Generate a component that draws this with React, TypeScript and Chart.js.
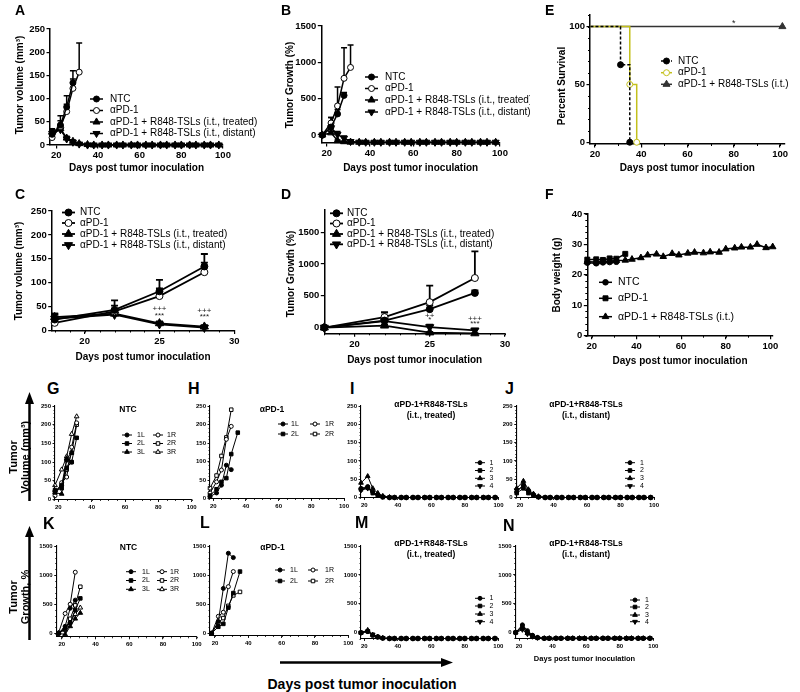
import React, { useEffect, useRef } from 'react';
import { Chart, registerables } from 'chart.js';

Chart.register(...registerables);

const FONT = "'Liberation Sans', Arial, Helvetica, sans-serif";
Chart.defaults.font.family = FONT;
Chart.defaults.color = '#000';

// ================= DATA =================
const groupLabels = ['NTC', 'αPD-1', 'αPD-1 + R848-TSLs (i.t., treated)', 'αPD-1 + R848-TSLs (i.t., distant)'];
const groupLabels3 = ['NTC', 'αPD-1', 'αPD-1 + R848-TSLs (i.t.)'];
const tumorLabelsNTC = ['1L', '2L', '3L', '1R', '2R', '3R'];
const tumorLabelsPD1 = ['1L', '2L', '1R', '2R'];
const mouseLabels = ['1', '2', '3', '4'];

const ticksDays100 = [20, 40, 60, 80, 100];
const ticksDays30 = [20, 25, 30];
const ticksVol250 = [0, 50, 100, 150, 200, 250];
const ticksGrowth1500 = [0, 500, 1000, 1500];
const ticksSurvival = [0, 50, 100];
const ticksWeight = [0, 10, 20, 30, 40];

const daysNTC = [18, 22, 25, 28];
const daysPD1 = [18, 22, 25, 28, 31];
const daysLong = [18, 22, 25, 28, 31, 35, 38, 42, 45, 49, 52, 56, 59, 63, 66, 70, 73, 77, 80, 84, 87, 91, 94, 98];

// A / C : tumor volume (mm3), mean and upper SEM
const volNTC = [23, 43, 82, 134];
const volNTCErr = [10, 20, 24, 26];
const volPD1 = [16, 40, 72, 122, 157];
const volPD1Err = [4, 12, 16, 20, 63];
const volTreated = [28, 35, 15, 8, 3, 1, 0, 0, 0, 0, 0, 0, 0, 0, 0, 0, 0, 0, 0, 0, 0, 0, 0, 0];
const volTreatedErr = [7, 5, 4, 3, 1, 0, 0, 0, 0, 0, 0, 0, 0, 0, 0, 0, 0, 0, 0, 0, 0, 0, 0, 0];
const volDistant = [25, 33, 13, 6, 2, 0, 0, 0, 0, 0, 0, 0, 0, 0, 0, 0, 0, 0, 0, 0, 0, 0, 0, 0];
const volDistantErr = [10, 6, 5, 2, 1, 0, 0, 0, 0, 0, 0, 0, 0, 0, 0, 0, 0, 0, 0, 0, 0, 0, 0, 0];

// B / D : tumor growth (%)
const grNTC = [0, 110, 290, 545];
const grNTCErr = [0, 130, 60, 40];
const grPD1 = [0, 165, 400, 780, 930];
const grPD1Err = [0, 75, 260, 420, 310];
const grTreated = [0, 30, -78, -92, -98, -100, -100, -100, -100, -100, -100, -100, -100, -100, -100, -100, -100, -100, -100, -100, -100, -100, -100, -100];
const grTreatedErr = [0, 20, 10, 5, 2, 0, 0, 0, 0, 0, 0, 0, 0, 0, 0, 0, 0, 0, 0, 0, 0, 0, 0, 0];
const grDistant = [0, 100, 8, -45, -90, -99, -100, -100, -100, -100, -100, -100, -100, -100, -100, -100, -100, -100, -100, -100, -100, -100, -100, -100];
const grDistantErr = [0, 60, 40, 30, 5, 0, 0, 0, 0, 0, 0, 0, 0, 0, 0, 0, 0, 0, 0, 0, 0, 0, 0, 0];

// E : survival (%)
const survNTCDays = [18, 31, 35];
const survNTC = [100, 67, 0];
const survPD1Days = [18, 35, 38];
const survPD1 = [100, 50, 0];
const survTrtDays = [18, 101];
const survTrt = [100, 100];

// F : body weight (g)
const bwNTCDays = [18, 22, 25, 28, 31];
const bwNTC = [24.0, 23.8, 24.1, 24.2, 24.3];
const bwPD1Days = [18, 22, 25, 28, 31, 35];
const bwPD1 = [25.0, 25.1, 24.9, 25.4, 25.3, 26.9];
const bwTrtDays = [18, 22, 25, 28, 31, 35, 38, 42, 45, 49, 52, 56, 59, 63, 66, 70, 73, 77, 80, 84, 87, 91, 94, 98, 101];
const bwTrt = [24.3, 24.2, 24.5, 24.5, 24.7, 24.8, 25.1, 25.6, 26.5, 26.8, 26.0, 27.0, 26.5, 27.1, 27.4, 27.2, 27.5, 27.4, 28.5, 28.8, 29.1, 29.1, 30.0, 28.9, 29.2];

// G / K : NTC individual tumors
const ntcTumorDays = [18, 22, 25, 28, 31];
const gVol1L = [22, 38, 105, 100];
const gVol2L = [25, 30, 85, 100, 165];
const gVol3L = [18, 15, 110, 125];
const gVol1R = [10, 45, 60, 140, 205];
const gVol2R = [20, 40, 80, 125, 200];
const gVol3R = [38, 80, 115, 175, 222];
const kGr1L = [0, 120, 430, 570];
const kGr2L = [0, 80, 180, 400, 600];
const kGr3L = [0, -20, 120, 250, 350];
const kGr1R = [0, 340, 500, 1050];
const kGr2R = [0, 60, 250, 480, 800];
const kGr3R = [0, 100, 200, 330, 440];

// H / L : aPD-1 individual tumors
const pd1TumorDays = [18, 22, 25, 28, 31, 35];
const hVol1L = [5, 15, 36, 90, 78];
const hVol2L = [8, 25, 45, 55, 120, 178];
const hVol1R = [15, 45, 77, 160, 195];
const hVol2R = [28, 62, 115, 165, 240];
const lGr1L = [0, 200, 770, 1375, 1300];
const lGr2L = [0, 110, 160, 440, 690, 1060];
const lGr1R = [0, 290, 360, 800, 1060];
const lGr2R = [0, 180, 260, 470, 650, 710];

// I / M : treated tumors, J / N : distant tumors
const iVol1 = [25, 30, 15, 8, 2, 0, 0, 0, 0, 0, 0, 0, 0, 0, 0, 0, 0, 0, 0, 0, 0, 0, 0, 0];
const iVol2 = [22, 27, 12, 5, 1, 0, 0, 0, 0, 0, 0, 0, 0, 0, 0, 0, 0, 0, 0, 0, 0, 0, 0, 0];
const iVol3 = [40, 58, 25, 12, 4, 1, 0, 0, 0, 0, 0, 0, 0, 0, 0, 0, 0, 0, 0, 0, 0, 0, 0, 0];
const iVol4 = [20, 25, 14, 6, 2, 0, 0, 0, 0, 0, 0, 0, 0, 0, 0, 0, 0, 0, 0, 0, 0, 0, 0, 0];
const jVol1 = [15, 35, 20, 8, 2, 0, 0, 0, 0, 0, 0, 0, 0, 0, 0, 0, 0, 0, 0, 0, 0, 0, 0, 0];
const jVol2 = [12, 25, 12, 5, 1, 0, 0, 0, 0, 0, 0, 0, 0, 0, 0, 0, 0, 0, 0, 0, 0, 0, 0, 0];
const jVol3 = [25, 45, 22, 10, 3, 0, 0, 0, 0, 0, 0, 0, 0, 0, 0, 0, 0, 0, 0, 0, 0, 0, 0, 0];
const jVol4 = [20, 30, 15, 6, 2, 0, 0, 0, 0, 0, 0, 0, 0, 0, 0, 0, 0, 0, 0, 0, 0, 0, 0, 0];
const mGr1 = [0, 20, -40, -68, -92, -100, -100, -100, -100, -100, -100, -100, -100, -100, -100, -100, -100, -100, -100, -100, -100, -100, -100, -100];
const mGr2 = [0, 23, -45, -77, -95, -100, -100, -100, -100, -100, -100, -100, -100, -100, -100, -100, -100, -100, -100, -100, -100, -100, -100, -100];
const mGr3 = [0, 45, -37, -70, -90, -98, -100, -100, -100, -100, -100, -100, -100, -100, -100, -100, -100, -100, -100, -100, -100, -100, -100, -100];
const mGr4 = [0, 25, -30, -70, -90, -100, -100, -100, -100, -100, -100, -100, -100, -100, -100, -100, -100, -100, -100, -100, -100, -100, -100, -100];
const nGr1 = [0, 133, 33, -47, -87, -100, -100, -100, -100, -100, -100, -100, -100, -100, -100, -100, -100, -100, -100, -100, -100, -100, -100, -100];
const nGr2 = [0, 108, 0, -58, -92, -100, -100, -100, -100, -100, -100, -100, -100, -100, -100, -100, -100, -100, -100, -100, -100, -100, -100, -100];
const nGr3 = [0, 80, -12, -60, -88, -100, -100, -100, -100, -100, -100, -100, -100, -100, -100, -100, -100, -100, -100, -100, -100, -100, -100, -100];
const nGr4 = [0, 50, -25, -70, -90, -100, -100, -100, -100, -100, -100, -100, -100, -100, -100, -100, -100, -100, -100, -100, -100, -100, -100, -100];

// ================= HELPERS =================
type MStyle = 'circle' | 'rect' | 'triangle' | 'tridown';
interface Ser {
  label: string; x: number[]; y: number[]; err?: number[]; style: MStyle; open?: boolean;
  color?: string; dash?: number[]; radii?: number[]; stepped?: boolean; lw?: number;
}
interface LegItem { s: number; y: number; x1: number; x2: number; tx: number; }
interface Spec {
  canvas: number[]; plot: number[];
  xmin: number; xmax: number; xticks: number[]; xminor?: number; xtitle?: string; xtitleY?: number; xtitleSize?: number;
  ymin: number; ymax: number; yticks: number[]; yminor?: number; ytitle?: string; ytitleX?: number; ytitleY?: number;
  tickSize: number; tickLen: number; axisW: number; lineW: number; markR: number; capW: number; minorLen: number;
  series: Ser[]; legend?: { items: LegItem[]; size: number }; texts?: { x: number; y: number; text: string; size: number }[];
}

function col(idx: number[], ys: number[], x1: number, x2: number, tx: number): LegItem[] {
  return idx.map((s, i) => ({ s, y: ys[i], x1, x2, tx }));
}

function drawMarker(ctx: CanvasRenderingContext2D, style: MStyle, x: number, y: number, r: number, fill: string, stroke: string, lw: number) {
  ctx.save();
  ctx.beginPath();
  if (style === 'circle') ctx.arc(x, y, r, 0, Math.PI * 2);
  else if (style === 'rect') { const s = r * Math.SQRT1_2; ctx.rect(x - s, y - s, 2 * s, 2 * s); }
  else {
    let rad = style === 'tridown' ? Math.PI : 0;
    for (let k = 0; k < 3; k++) {
      const px = x + Math.sin(rad) * r, py = y - Math.cos(rad) * r;
      if (k === 0) ctx.moveTo(px, py); else ctx.lineTo(px, py);
      rad += (2 * Math.PI) / 3;
    }
    ctx.closePath();
  }
  ctx.fillStyle = fill; ctx.fill();
  ctx.lineWidth = lw; ctx.strokeStyle = stroke; ctx.stroke();
  ctx.restore();
}

const errPlugin = {
  id: 'gpErr',
  beforeDatasetsDraw(chart: any, _a: any, opts: any) {
    const ctx = chart.ctx; const xs = chart.scales.x; const ys = chart.scales.y;
    chart.data.datasets.forEach((d: any) => {
      if (!d.errUp) return;
      ctx.save(); ctx.strokeStyle = d.borderColor; ctx.lineWidth = opts.lw || 1.5;
      d.data.forEach((pt: any, i: number) => {
        const e = d.errUp[i]; if (!e) return;
        const px = xs.getPixelForValue(pt.x); const y0 = ys.getPixelForValue(pt.y); const y1 = ys.getPixelForValue(pt.y + e);
        ctx.beginPath(); ctx.moveTo(px, y0); ctx.lineTo(px, y1);
        ctx.moveTo(px - opts.cap, y1); ctx.lineTo(px + opts.cap, y1); ctx.stroke();
      });
      ctx.restore();
    });
  },
};

const minorPlugin = {
  id: 'gpMinor',
  afterDraw(chart: any, _a: any, opts: any) {
    const ctx = chart.ctx; const ca = chart.chartArea;
    ctx.save(); ctx.strokeStyle = '#000'; ctx.lineWidth = opts.lw || 1;
    if (opts.x) {
      const s = chart.scales.x;
      for (let v = Math.ceil(s.min / opts.x) * opts.x; v <= s.max + 1e-9; v += opts.x) {
        const p = Math.round(s.getPixelForValue(v)) + 0.5;
        ctx.beginPath(); ctx.moveTo(p, ca.bottom); ctx.lineTo(p, ca.bottom + opts.len); ctx.stroke();
      }
    }
    if (opts.y) {
      const s = chart.scales.y;
      for (let v = Math.ceil(s.min / opts.y) * opts.y; v <= s.max + 1e-9; v += opts.y) {
        const p = Math.round(s.getPixelForValue(v)) + 0.5;
        ctx.beginPath(); ctx.moveTo(ca.left, p); ctx.lineTo(ca.left - opts.len, p); ctx.stroke();
      }
    }
    ctx.restore();
  },
};

const legendPlugin = {
  id: 'gpLegend',
  afterDraw(chart: any, _a: any, opts: any) {
    if (!opts || !opts.items) return;
    const ctx = chart.ctx;
    ctx.save();
    ctx.font = `${opts.size}px ${FONT}`;
    ctx.textBaseline = 'middle';
    opts.items.forEach((it: any) => {
      const d = chart.data.datasets[it.s];
      const y = it.y - opts.oy; const x1 = it.x1 - opts.ox; const x2 = it.x2 - opts.ox;
      ctx.beginPath(); ctx.setLineDash(d.borderDash || []);
      ctx.strokeStyle = d.borderColor; ctx.lineWidth = d.borderWidth;
      ctx.moveTo(x1, y); ctx.lineTo(x2, y); ctx.stroke(); ctx.setLineDash([]);
      drawMarker(ctx, d.gpStyle, (x1 + x2) / 2, y, d.gpR, d.gpOpen ? '#fff' : d.borderColor, d.borderColor, d.pointBorderWidth);
      ctx.fillStyle = '#000';
      ctx.fillText(d.label, it.tx - opts.ox, y);
    });
    ctx.restore();
  },
};

const textsPlugin = {
  id: 'gpTexts',
  afterDraw(chart: any, _a: any, opts: any) {
    if (!opts || !opts.items) return;
    const ctx = chart.ctx;
    ctx.save(); ctx.textAlign = 'center'; ctx.textBaseline = 'middle'; ctx.fillStyle = '#222';
    opts.items.forEach((t: any) => {
      ctx.font = `${t.size}px ${FONT}`;
      ctx.fillText(t.text, chart.scales.x.getPixelForValue(t.x), chart.scales.y.getPixelForValue(t.y));
    });
    ctx.restore();
  },
};

function buildConfig(p: Spec): any {
  const [cl, ct, cw, ch] = p.canvas;
  const [pl, pt, pr, pb] = p.plot;
  const datasets = p.series.map((s) => {
    const c = s.color || '#000';
    const rr = s.style === 'triangle' || s.style === 'tridown' ? p.markR * 1.35 : s.style === 'rect' ? p.markR * 1.25 : p.markR;
    return {
      label: s.label,
      data: s.y.map((v, i) => ({ x: s.x[i], y: v })),
      borderColor: c, backgroundColor: c,
      borderWidth: s.lw ?? p.lineW, borderDash: s.dash || [],
      pointStyle: s.style === 'tridown' ? 'triangle' : s.style,
      pointRotation: s.style === 'tridown' ? 180 : 0,
      pointRadius: s.radii ? s.radii.map((k) => k * rr) : rr,
      pointBackgroundColor: s.open ? '#fff' : c,
      pointBorderColor: c, pointBorderWidth: 1,
      stepped: s.stepped ? 'before' : false,
      tension: 0, fill: false, clip: false,
      gpStyle: s.style, gpOpen: !!s.open, gpR: rr, errUp: s.err,
    };
  });
  const tickFont = { family: FONT, size: p.tickSize, weight: 'bold' as const };
  const xts = p.xtitleSize || 10;
  return {
    type: 'line',
    data: { datasets },
    options: {
      responsive: false, animation: false, events: [],
      layout: { padding: { left: 0, top: pt - ct, right: cl + cw - pr, bottom: 0 } },
      scales: {
        x: {
          type: 'linear', position: 'bottom', min: p.xmin, max: p.xmax,
          afterBuildTicks: (s: any) => { s.ticks = p.xticks.map((v) => ({ value: v })); },
          afterFit: (s: any) => { s.height = ct + ch - pb; },
          ticks: { font: tickFont, color: '#000', padding: 1.5, maxRotation: 0, autoSkip: false, callback: (v: any) => String(v) },
          grid: { display: true, drawOnChartArea: false, drawTicks: true, tickLength: p.tickLen, color: '#000', lineWidth: p.axisW * 0.8 },
          border: { display: true, color: '#000', width: p.axisW },
          title: p.xtitle ? { display: true, text: p.xtitle, color: '#000', font: { family: FONT, size: xts, weight: 'bold', lineHeight: 1.2 }, padding: { top: 0, bottom: ct + ch - (p.xtitleY as number) - xts * 0.6 } } : { display: false },
        },
        y: {
          type: 'linear', position: 'left', min: p.ymin, max: p.ymax,
          afterBuildTicks: (s: any) => { s.ticks = p.yticks.map((v) => ({ value: v })); },
          afterFit: (s: any) => { s.width = pl - cl; },
          ticks: { font: tickFont, color: '#000', padding: 1.5, autoSkip: false, callback: (v: any) => String(v) },
          grid: { display: true, drawOnChartArea: false, drawTicks: true, tickLength: p.tickLen, color: '#000', lineWidth: p.axisW * 0.8 },
          border: { display: true, color: '#000', width: p.axisW },
          title: { display: false },
        },
      },
      plugins: {
        legend: { display: false }, tooltip: { enabled: false },
        gpErr: { cap: p.capW, lw: p.lineW },
        gpMinor: { x: p.xminor, y: p.yminor, len: p.minorLen, lw: p.axisW * 0.7 },
        gpLegend: p.legend ? { items: p.legend.items, size: p.legend.size, ox: cl, oy: ct } : {},
        gpTexts: p.texts ? { items: p.texts } : {},
      },
    },
    plugins: [errPlugin, minorPlugin, legendPlugin, textsPlugin],
  };
}

// ================= PANELS =================
const DAYS = 'Days post tumor inoculation';
const bigStyle = { tickSize: 9.5, tickLen: 3.5, axisW: 1.5, lineW: 1.5, markR: 3, capW: 3, minorLen: 2 };
const smallStyle = { tickSize: 6, tickLen: 2.5, axisW: 1.1, lineW: 1, markR: 2, capW: 0, minorLen: 1.5 };

function groupSeries(vN: number[], eN: number[], vP: number[], eP: number[], vT: number[], eT: number[], vD: number[], eD: number[], n?: number): Ser[] {
  const cut = (a: number[]) => (n ? a.slice(0, n) : a);
  return [
    { label: groupLabels[0], x: daysNTC, y: cut(vN), err: cut(eN), style: 'circle' },
    { label: groupLabels[1], x: daysPD1, y: cut(vP), err: cut(eP), style: 'circle', open: true },
    { label: groupLabels[2], x: daysLong, y: cut(vT), err: cut(eT), style: 'triangle' },
    { label: groupLabels[3], x: daysLong, y: cut(vD), err: cut(eD), style: 'tridown' },
  ];
}

const panelA: Spec = {
  ...bigStyle, canvas: [0, 0, 265, 185], plot: [50, 29, 223, 145],
  xmin: 17, xmax: 100, xticks: ticksDays100, xtitle: DAYS, xtitleY: 168,
  ymin: 0, ymax: 250, yticks: ticksVol250, ytitle: 'Tumor volume (mm³)', ytitleX: 20, ytitleY: 85,
  series: groupSeries(volNTC, volNTCErr, volPD1, volPD1Err, volTreated, volTreatedErr, volDistant, volDistantErr),
  legend: { size: 10, items: col([0, 1, 2, 3], [99, 110.5, 122, 133.5], 90, 103, 110) },
};
const panelB: Spec = {
  ...bigStyle, canvas: [265, 0, 265, 185], plot: [321.3, 26, 500, 143],
  xmin: 17.5, xmax: 100, xticks: ticksDays100, xtitle: DAYS, xtitleY: 168,
  ymin: -110, ymax: 1500, yticks: ticksGrowth1500, ytitle: 'Tumor Growth (%)', ytitleX: 290, ytitleY: 85,
  series: groupSeries(grNTC, grNTCErr, grPD1, grPD1Err, grTreated, grTreatedErr, grDistant, grDistantErr),
  legend: { size: 10, items: col([0, 1, 2, 3], [77, 88.5, 100, 112], 365, 378, 385) },
};
const panelE: Spec = {
  ...bigStyle, canvas: [530, 0, 270, 185], plot: [590, 15, 784.7, 144],
  xmin: 17.8, xmax: 102, xticks: ticksDays100, xminor: 10, xtitle: DAYS, xtitleY: 168,
  ymin: -1.5, ymax: 110, yticks: ticksSurvival, yminor: 10, ytitle: 'Percent Survival', ytitleX: 562, ytitleY: 86,
  series: [
    { label: groupLabels3[0], x: survNTCDays, y: survNTC, style: 'circle', dash: [3, 2], stepped: true, radii: [0, 1, 1] },
    { label: groupLabels3[1], x: survPD1Days, y: survPD1, style: 'circle', open: true, color: '#c3c01c', stepped: true, radii: [0, 1, 1] },
    { label: groupLabels3[2], x: survTrtDays, y: survTrt, style: 'triangle', color: '#333', stepped: true, radii: [0, 1] },
  ],
  legend: { size: 10, items: col([0, 1, 2], [61, 72.7, 84.3], 661, 672, 678) },
  texts: [{ x: 80, y: 103, text: '*', size: 9 }],
};
const panelC: Spec = {
  ...bigStyle, lineW: 1.8, markR: 3.5, capW: 3.5, canvas: [0, 190, 265, 190], plot: [51.7, 211, 234.3, 330.5],
  xmin: 17.8, xmax: 30, xticks: ticksDays30, xminor: 1, xtitle: DAYS, xtitleY: 357.3,
  ymin: 0, ymax: 250, yticks: ticksVol250, ytitle: 'Tumor volume (mm³)', ytitleX: 19, ytitleY: 271,
  series: groupSeries(volNTC, volNTCErr, volPD1, volPD1Err, volTreated, volTreatedErr, volDistant, volDistantErr, 4),
  legend: { size: 10, items: col([0, 1, 2, 3], [212.5, 223, 234, 245], 62, 75, 80) },
  texts: [
    { x: 25, y: 46, text: '+++', size: 8 }, { x: 25, y: 31, text: '***', size: 8 },
    { x: 28, y: 42, text: '+++', size: 8 }, { x: 28, y: 29, text: '***', size: 8 },
  ],
};
const panelD: Spec = {
  ...bigStyle, lineW: 1.8, markR: 3.5, capW: 3.5, canvas: [265, 190, 265, 190], plot: [324.3, 210, 505, 333.3],
  xmin: 18, xmax: 30, xticks: ticksDays30, xminor: 1, xtitle: DAYS, xtitleY: 360,
  ymin: -90, ymax: 1850, yticks: ticksGrowth1500, ytitle: 'Tumor Growth (%)', ytitleX: 291, ytitleY: 274,
  series: groupSeries(grNTC, grNTCErr, grPD1, grPD1Err, grTreated, grTreatedErr, grDistant, grDistantErr, 4),
  legend: { size: 10, items: col([0, 1, 2, 3], [213.3, 223.5, 234, 244.3], 330, 343, 347) },
  texts: [
    { x: 25, y: 190, text: '++', size: 8 }, { x: 25, y: 122, text: '*', size: 8 },
    { x: 28, y: 138, text: '+++', size: 8 }, { x: 28, y: 60, text: '***', size: 8 },
  ],
};
const panelF: Spec = {
  ...bigStyle, markR: 2.8, canvas: [530, 190, 270, 190], plot: [587.3, 214, 772.7, 335.7],
  xmin: 18, xmax: 101, xticks: ticksDays100, xminor: 10, xtitle: DAYS, xtitleY: 361.7,
  ymin: 0, ymax: 40, yticks: ticksWeight, yminor: 2, ytitle: 'Body weight (g)', ytitleX: 557, ytitleY: 275,
  series: [
    { label: groupLabels3[0], x: bwNTCDays, y: bwNTC, style: 'circle' },
    { label: groupLabels3[1], x: bwPD1Days, y: bwPD1, style: 'rect' },
    { label: groupLabels3[2], x: bwTrtDays, y: bwTrt, style: 'triangle' },
  ],
  legend: { size: 10.5, items: col([0, 1, 2], [282.3, 298.3, 316.7], 599, 612, 618) },
};

function ntcSeries(v: number[][]): Ser[] {
  const st: MStyle[] = ['circle', 'rect', 'triangle', 'circle', 'rect', 'triangle'];
  return v.map((y, i) => ({ label: tumorLabelsNTC[i], x: ntcTumorDays, y, style: st[i], open: i >= 3 }));
}
function pd1Series(v: number[][]): Ser[] {
  const st: MStyle[] = ['circle', 'rect', 'circle', 'rect'];
  return v.map((y, i) => ({ label: tumorLabelsPD1[i], x: pd1TumorDays, y, style: st[i], open: i >= 2 }));
}
function mouseSeries(v: number[][]): Ser[] {
  const st: MStyle[] = ['circle', 'rect', 'triangle', 'tridown'];
  return v.map((y, i) => ({ label: mouseLabels[i], x: daysLong, y, style: st[i] }));
}

const panelG: Spec = {
  ...smallStyle, canvas: [33, 398, 170, 122], plot: [55, 406, 191.7, 499.5],
  xmin: 18, xmax: 100, xticks: ticksDays100, xminor: 5, ymin: 0, ymax: 250, yticks: ticksVol250, yminor: 10,
  series: ntcSeries([gVol1L, gVol2L, gVol3L, gVol1R, gVol2R, gVol3R]),
  legend: { size: 7, items: [...col([0, 1, 2], [435, 443.5, 452], 122, 132, 137), ...col([3, 4, 5], [435, 443.5, 452], 153, 163, 167)] },
};
const panelH: Spec = {
  ...smallStyle, canvas: [193, 398, 165, 122], plot: [210, 406, 344, 498.5],
  xmin: 18, xmax: 100, xticks: ticksDays100, xminor: 5, ymin: 0, ymax: 250, yticks: ticksVol250, yminor: 10,
  series: pd1Series([hVol1L, hVol2L, hVol1R, hVol2R]),
  legend: { size: 7, items: [...col([0, 1], [424, 434], 278, 288, 291), ...col([2, 3], [424, 434], 310, 320, 325)] },
};
const panelI: Spec = {
  ...smallStyle, canvas: [343, 398, 162, 122], plot: [361, 406, 498.5, 497.5],
  xmin: 18, xmax: 100, xticks: ticksDays100, xminor: 5, ymin: 0, ymax: 250, yticks: ticksVol250, yminor: 10,
  series: mouseSeries([iVol1, iVol2, iVol3, iVol4]),
  legend: { size: 7, items: col([0, 1, 2, 3], [462.7, 470.5, 478.3, 486], 475, 485, 489.5) },
};
const panelJ: Spec = {
  ...smallStyle, canvas: [498, 398, 165, 122], plot: [516.7, 406, 654, 497.5],
  xmin: 18, xmax: 100, xticks: ticksDays100, xminor: 5, ymin: 0, ymax: 250, yticks: ticksVol250, yminor: 10,
  series: mouseSeries([jVol1, jVol2, jVol3, jVol4]),
  legend: { size: 7, items: col([0, 1, 2, 3], [462.7, 470.5, 478.3, 486], 625, 635, 640) },
};
const panelK: Spec = {
  ...smallStyle, canvas: [33, 535, 175, 125], plot: [56.7, 546, 196.7, 636.8],
  xmin: 17, xmax: 100, xticks: ticksDays100, xminor: 5, ymin: -60, ymax: 1500, yticks: ticksGrowth1500, yminor: 100,
  series: ntcSeries([kGr1L, kGr2L, kGr3L, kGr1R, kGr2R, kGr3R]),
  legend: { size: 7, items: [...col([0, 1, 2], [571.7, 580.5, 589.3], 126, 136, 142), ...col([3, 4, 5], [571.7, 580.5, 589.3], 157, 167, 170)] },
};
const panelL: Spec = {
  ...smallStyle, canvas: [193, 535, 170, 125], plot: [210, 546, 348.3, 635.5],
  xmin: 17, xmax: 100, xticks: ticksDays100, xminor: 5, ymin: -40, ymax: 1500, yticks: ticksGrowth1500, yminor: 100,
  series: pd1Series([lGr1L, lGr2L, lGr1R, lGr2R]),
  legend: { size: 7, items: [...col([0, 1], [570, 581], 275, 285, 290), ...col([2, 3], [570, 581], 308, 318, 325)] },
};
const panelM: Spec = {
  ...smallStyle, canvas: [343, 535, 162, 125], plot: [361, 546, 498.3, 638.5],
  xmin: 18, xmax: 100, xticks: ticksDays100, xminor: 5, ymin: -100, ymax: 1500, yticks: ticksGrowth1500, yminor: 100,
  series: mouseSeries([mGr1, mGr2, mGr3, mGr4]),
  legend: { size: 7, items: col([0, 1, 2, 3], [598.3, 606, 614, 621.7], 475, 485, 489.5) },
};
const panelN: Spec = {
  ...smallStyle, canvas: [498, 535, 165, 135], plot: [515.7, 546, 653.3, 638.3],
  xmin: 18, xmax: 100, xticks: ticksDays100, xminor: 5, ymin: -100, ymax: 1500, yticks: ticksGrowth1500, yminor: 100,
  xtitle: DAYS, xtitleY: 659, xtitleSize: 7.5,
  series: mouseSeries([nGr1, nGr2, nGr3, nGr4]),
  legend: { size: 7, items: col([0, 1, 2, 3], [600, 607, 615, 621.7], 630, 640, 645) },
};

const panels = [panelA, panelB, panelE, panelC, panelD, panelF, panelG, panelH, panelI, panelJ, panelK, panelL, panelM, panelN];

// ================= COMPONENTS =================
function ChartCanvas({ spec }: { spec: Spec }) {
  const ref = useRef<HTMLCanvasElement>(null);
  useEffect(() => {
    const chart = new Chart(ref.current as HTMLCanvasElement, buildConfig(spec));
    return () => chart.destroy();
  }, [spec]);
  const [l, t, w, h] = spec.canvas;
  return <canvas ref={ref} width={w} height={h} style={{ position: 'absolute', left: l, top: t, width: w, height: h }} />;
}

const letters: [string, number, number, number][] = [
  ['A', 15, 5, 14], ['B', 281, 5, 14], ['E', 545, 5, 14],
  ['C', 15, 189, 14], ['D', 281, 189, 14], ['F', 545, 189, 14],
  ['G', 47, 383, 16], ['H', 188, 383, 16], ['I', 350, 383, 16], ['J', 505, 383, 16],
  ['K', 43, 518, 16], ['L', 200, 517, 16], ['M', 355, 517, 16], ['N', 503, 520, 16],
];
const panelTitles: [string, number, number][] = [
  ['NTC', 128, 409], ['αPD-1', 272, 409],
  ['αPD-1+R848-TSLs', 431, 404], ['(i.t., treated)', 431, 415],
  ['αPD-1+R848-TSLs', 586, 404], ['(i.t., distant)', 586, 415],
  ['NTC', 128.5, 546.7], ['αPD-1', 272.5, 546.7],
  ['αPD-1+R848-TSLs', 431, 543.3], ['(i.t., treated)', 431, 554.3],
  ['αPD-1+R848-TSLs', 586, 543.3], ['(i.t., distant)', 586, 554.3],
];

export default function App() {
  const base: React.CSSProperties = { position: 'absolute', fontFamily: FONT, color: '#000', whiteSpace: 'nowrap', lineHeight: 1 };
  return (
    <div style={{ position: 'absolute', left: 0, top: 0, width: 800, height: 692, background: '#fff', overflow: 'hidden' }}>
      {panels.map((p, i) => <ChartCanvas key={i} spec={p} />)}
      {panels.filter((p) => p.ytitle).map((p, i) => (
        <div key={'yt' + i} style={{ ...base, left: p.ytitleX, top: p.ytitleY, fontSize: 10, fontWeight: 'bold', transform: 'translate(-50%,-50%) rotate(-90deg)' }}>{p.ytitle}</div>
      ))}
      {letters.map(([t, x, y, s]) => (
        <div key={t} style={{ ...base, left: x, top: y - 0.13 * s, fontSize: s, fontWeight: 'bold' }}>{t}</div>
      ))}
      {panelTitles.map(([t, x, y], i) => (
        <div key={i} style={{ ...base, left: x, top: y, fontSize: 8.5, fontWeight: 'bold', transform: 'translate(-50%,-50%)' }}>{t}</div>
      ))}
      <div style={{ ...base, left: 19, top: 457, fontSize: 11, fontWeight: 'bold', lineHeight: '12px', textAlign: 'center', transform: 'translate(-50%,-50%) rotate(-90deg)' }}>Tumor<br />Volume (mm³)</div>
      <div style={{ ...base, left: 19, top: 597, fontSize: 11, fontWeight: 'bold', lineHeight: '12px', textAlign: 'center', transform: 'translate(-50%,-50%) rotate(-90deg)' }}>Tumor<br />Growth, %</div>
      <div style={{ ...base, left: 362, top: 683.5, fontSize: 14, fontWeight: 'bold', transform: 'translate(-50%,-50%)' }}>{DAYS}</div>
      <svg width={800} height={692} style={{ position: 'absolute', left: 0, top: 0, pointerEvents: 'none' }}>
        <line x1={29.5} y1={402} x2={29.5} y2={501} stroke="#000" strokeWidth={2.5} />
        <polygon points="25,404 34,404 29.5,392" fill="#000" />
        <line x1={29.5} y1={535} x2={29.5} y2={640} stroke="#000" strokeWidth={2.5} />
        <polygon points="25,537 34,537 29.5,526" fill="#000" />
        <line x1={280} y1={662.5} x2={443} y2={662.5} stroke="#000" strokeWidth={2.5} />
        <polygon points="441,658 441,667 453,662.5" fill="#000" />
      </svg>
    </div>
  );
}
